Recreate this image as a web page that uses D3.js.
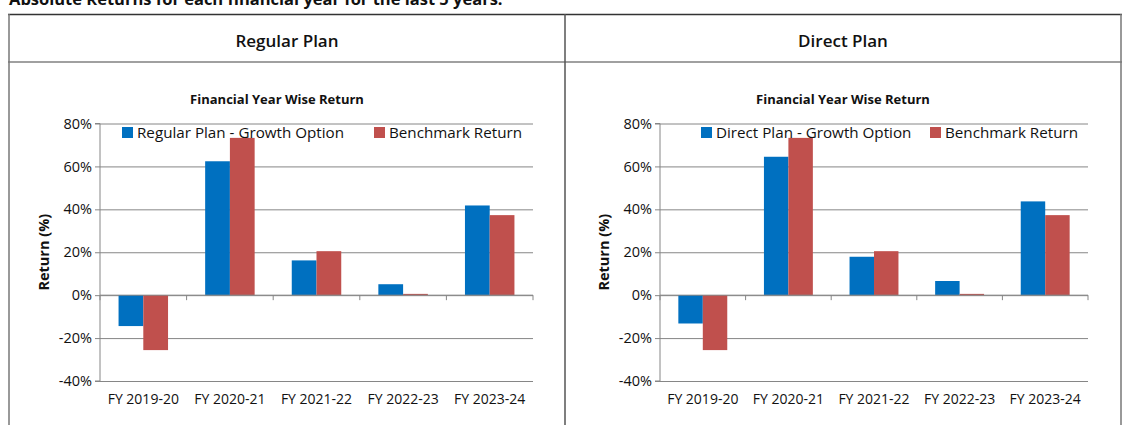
<!DOCTYPE html>
<html>
<head>
<meta charset="utf-8">
<script src="https://cdn.jsdelivr.net/npm/d3@7"></script>
<style>
  html, body { margin: 0; padding: 0; background: #fff; }
  svg { display: block; font-family: "Open Sans", sans-serif; }
</style>
</head>
<body>
<div id="chart"></div>
<script>
// Financial year wise absolute returns, regular vs direct plan

const categories = ["FY 2019-20", "FY 2020-21", "FY 2021-22", "FY 2022-23", "FY 2023-24"];
const regularReturns = [-14.4, 62.4, 16.2, 5.1, 41.8];
const directReturns = [-13.2, 64.5, 17.9, 6.6, 43.7];
const benchmarkReturns = [-25.6, 73.3, 20.5, 0.6, 37.3];
const yTicks = [-40, -20, 0, 20, 40, 60, 80];

const panels = [
    { title: "Regular Plan", seriesName: "Regular Plan - Growth Option", values: regularReturns,
      x0: 9, x1: 565, plotLeft: 100, plotRight: 533, titleX: 277, yTitleX: 44,
      legendX: [122, 374] },
    { title: "Direct Plan", seriesName: "Direct Plan - Growth Option", values: directReturns,
      x0: 565, x1: 1121, plotLeft: 660, plotRight: 1088, titleX: 843, yTitleX: 604,
      legendX: [701, 930] }
];

const width = 1128, height = 425;
const blue = "#0070C0", red = "#C0504D", gridColor = "#868686";

const svg = d3.select("#chart").append("svg")
    .attr("width", width)
    .attr("height", height);

// caption cut off at top, as in the source
svg.append("text")
    .attr("x", 9).attr("y", 4.5)
    .attr("font-size", 16.5).attr("font-weight", 700)
    .attr("fill", "#111")
    .text("Absolute Returns for each financial year for the last 5 years.");

// table frame
svg.append("line").attr("x1", 8).attr("x2", 1122).attr("y1", 14.5).attr("y2", 14.5)
    .attr("stroke", "#333").attr("stroke-width", 1.5);
svg.append("line").attr("x1", 8).attr("x2", 1122).attr("y1", 62).attr("y2", 62)
    .attr("stroke", "#808080").attr("stroke-width", 1.5);
[9, 565, 1121].forEach(x => {
    svg.append("line").attr("x1", x).attr("x2", x).attr("y1", 14).attr("y2", height)
        .attr("stroke", x === 565 ? "#555" : "#777").attr("stroke-width", 1.5);
});

const y = d3.scaleLinear().domain([-40, 80]).range([381, 123.5]);

panels.forEach(p => {
    const g = svg.append("g");

    g.append("text")
        .attr("x", (p.x0 + p.x1) / 2).attr("y", 47)
        .attr("text-anchor", "middle")
        .attr("font-size", 17).attr("font-weight", 600)
        .attr("fill", "#111")
        .text(p.title);

    g.append("text")
        .attr("x", p.titleX).attr("y", 104)
        .attr("text-anchor", "middle")
        .attr("font-size", 13).attr("font-weight", 700)
        .attr("fill", "#111")
        .text("Financial Year Wise Return");

    const x = d3.scaleBand().domain(categories)
        .range([p.plotLeft, p.plotRight])
        .paddingInner(1.5 / 3.5).paddingOuter(0.75 / 3.5);
    const xs = d3.scaleBand().domain(["fund", "bench"]).range([0, x.bandwidth()]);

    // gridlines
    g.append("g")
        .attr("transform", `translate(${p.plotLeft},0)`)
        .call(d3.axisLeft(y).tickValues(yTicks).tickSize(-(p.plotRight - p.plotLeft)).tickFormat(""))
        .call(a => a.select(".domain").remove())
        .call(a => a.selectAll("line").attr("stroke", gridColor));

    // y axis
    g.append("g")
        .attr("transform", `translate(${p.plotLeft},0)`)
        .call(d3.axisLeft(y).tickValues(yTicks).tickSize(5).tickPadding(3).tickFormat(d => d + "%"))
        .call(a => a.select(".domain").attr("stroke", gridColor).attr("d", `M-5,${y(-40)}H0V${y(80)}H-5`))
        .call(a => a.selectAll("line").attr("stroke", gridColor))
        .call(a => a.selectAll("text").attr("font-size", 14.5).attr("fill", "#111")
            .attr("font-family", "Open Sans, sans-serif"));

    g.append("text")
        .attr("transform", `translate(${p.yTitleX},${(y(80) + y(-40)) / 2}) rotate(-90)`)
        .attr("text-anchor", "middle")
        .attr("dy", "0.35em")
        .attr("font-size", 14.5).attr("font-weight", 700)
        .attr("fill", "#111")
        .text("Return (%)");

    // bars
    const rows = categories.map((c, i) => ({ cat: c, fund: p.values[i], bench: benchmarkReturns[i] }));
    const grp = g.selectAll(".cat").data(rows).enter().append("g")
        .attr("transform", d => `translate(${x(d.cat)},0)`);
    grp.selectAll("rect")
        .data(d => [{ k: "fund", v: d.fund }, { k: "bench", v: d.bench }])
        .enter().append("rect")
        .attr("x", d => xs(d.k))
        .attr("width", xs.bandwidth())
        .attr("y", d => y(Math.max(0, d.v)))
        .attr("height", d => Math.abs(y(d.v) - y(0)))
        .attr("fill", d => d.k === "fund" ? blue : red);

    // x axis at zero with boundary ticks
    const step = x.step();
    const bounds = d3.range(categories.length + 1).map(i => p.plotLeft + i * step);
    g.append("line")
        .attr("x1", p.plotLeft).attr("x2", p.plotRight)
        .attr("y1", y(0)).attr("y2", y(0))
        .attr("stroke", gridColor);
    g.selectAll(".xtick").data(bounds).enter().append("line")
        .attr("x1", d => d).attr("x2", d => d)
        .attr("y1", y(0)).attr("y2", y(0) + 5)
        .attr("stroke", gridColor);
    g.selectAll(".xlab").data(categories).enter().append("text")
        .attr("x", d => x(d) + x.bandwidth() / 2)
        .attr("y", 404)
        .attr("text-anchor", "middle")
        .attr("font-size", 14).attr("fill", "#111")
        .text(d => d);

    // legend
    const legend = [{ name: p.seriesName, color: blue }, { name: "Benchmark Return", color: red }];
    legend.forEach((l, i) => {
        g.append("rect")
            .attr("x", p.legendX[i]).attr("y", 127)
            .attr("width", 11).attr("height", 11)
            .attr("fill", l.color);
        g.append("text")
            .attr("x", p.legendX[i] + 15).attr("y", 137.5)
            .attr("font-size", 15.2).attr("fill", "#111")
            .text(l.name);
    });
});
</script>
</body>
</html>
